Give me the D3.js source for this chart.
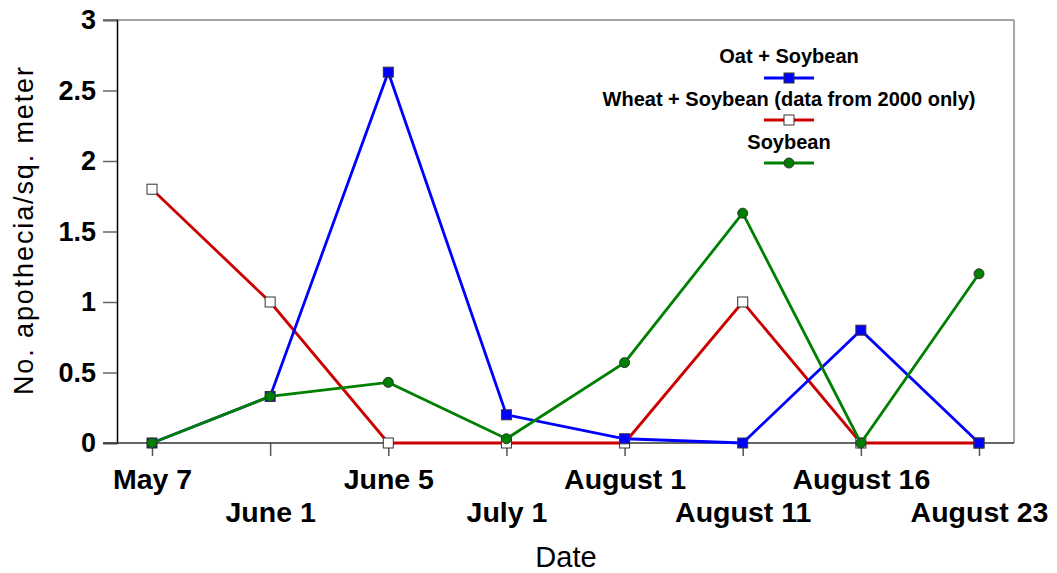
<!DOCTYPE html>
<html>
<head>
<meta charset="utf-8">
<script src="https://cdn.jsdelivr.net/npm/d3@7"></script>
<style>
  body { margin: 0; background: #fff; }
  svg { font-family: "Liberation Sans", Arial, sans-serif; }
</style>
</head>
<body>
<script>
const WIDTH = 1057;
const HEIGHT = 573;

// chart data
const dates = ["May 7", "June 1", "June 5", "July 1", "August 1", "August 11", "August 16", "August 23"];
const oatSoy = [0, 0.33, 2.63, 0.2, 0.03, 0, 0.8, 0];
const wheatSoy = [1.8, 1.0, 0, 0, 0, 1.0, 0, 0];
const soybean = [0, 0.33, 0.43, 0.03, 0.57, 1.63, 0, 1.2];
const yTicks = [0, 0.5, 1, 1.5, 2, 2.5, 3];

const series = [
  { name: "Oat + Soybean", values: oatSoy, color: "#0000ff", marker: "square", fill: "#0000ff" },
  { name: "Wheat + Soybean (data from 2000 only)", values: wheatSoy, color: "#cc0000", marker: "square", fill: "#ffffff" },
  { name: "Soybean", values: soybean, color: "#008000", marker: "circle", fill: "#008000" }
];
// wheat goes underneath, oat next, soybean on top
const drawOrder = [1, 0, 2];

const PLOT_LEFT = 117, PLOT_RIGHT = 1014, PLOT_TOP = 20, PLOT_BOTTOM = 443;

const svg = d3.select("body").append("svg")
  .attr("width", WIDTH)
  .attr("height", HEIGHT);

const x = d3.scalePoint().domain(dates).range([152, 979]);
const y = d3.scaleLinear().domain([0, 3]).range([PLOT_BOTTOM, PLOT_TOP]);

// frame: top and right in gray
svg.append("line").attr("x1", 103).attr("x2", PLOT_RIGHT).attr("y1", PLOT_TOP).attr("y2", PLOT_TOP)
  .attr("stroke", "#888").attr("stroke-width", 1.5);
svg.append("line").attr("x1", PLOT_RIGHT).attr("x2", PLOT_RIGHT).attr("y1", PLOT_TOP).attr("y2", PLOT_BOTTOM)
  .attr("stroke", "#888").attr("stroke-width", 1.5);

// y axis
const yAxis = d3.axisLeft(y).tickValues(yTicks).tickSize(14).tickPadding(7)
  .tickFormat(d => d3.format("")(d));
const gy = svg.append("g").attr("transform", `translate(${PLOT_LEFT},0)`).call(yAxis);
gy.select(".domain").attr("stroke", "#000").attr("stroke-width", 1.5);
gy.selectAll(".tick line").attr("stroke", "#666").attr("stroke-width", 1.5);
gy.selectAll(".tick text").attr("font-size", 27).attr("font-weight", "bold")
  .attr("fill", "#000").attr("font-family", "Liberation Sans, Arial, sans-serif");

// x axis
const xAxis = d3.axisBottom(x).tickSize(13).tickSizeOuter(0);
const gx = svg.append("g").attr("transform", `translate(0,${PLOT_BOTTOM})`).call(xAxis);
gx.select(".domain").remove();
svg.append("line").attr("x1", 103).attr("x2", PLOT_RIGHT).attr("y1", PLOT_BOTTOM).attr("y2", PLOT_BOTTOM)
  .attr("stroke", "#333").attr("stroke-width", 1.5);
gx.selectAll(".tick line").attr("stroke", "#555").attr("stroke-width", 1.5);
gx.selectAll(".tick text")
  .attr("font-size", 28.5).attr("font-weight", "bold").attr("fill", "#000")
  .attr("font-family", "Liberation Sans, Arial, sans-serif")
  .attr("y", (d, i) => i % 2 === 0 ? 46 : 79)
  .attr("dy", null);

// axis titles
svg.append("text")
  .attr("transform", "translate(33,231) rotate(-90)")
  .attr("text-anchor", "middle")
  .attr("font-size", 27)
  .attr("textLength", 328)
  .attr("lengthAdjust", "spacing")
  .text("No. apothecia/sq. meter");

svg.append("text")
  .attr("x", 566).attr("y", 567)
  .attr("text-anchor", "middle")
  .attr("font-size", 29)
  .text("Date");

// lines and markers
const line = d3.line().x((d, i) => x(dates[i])).y(d => y(d));

const drawMarker = (g, s, cx, cy) => {
  if (s.marker === "square") {
    g.append("rect")
      .attr("x", cx - 5).attr("y", cy - 5)
      .attr("width", 10).attr("height", 10)
      .attr("fill", s.fill).attr("stroke", "#333").attr("stroke-width", 1);
  } else {
    g.append("circle")
      .attr("cx", cx).attr("cy", cy).attr("r", 5)
      .attr("fill", s.fill).attr("stroke", "#333").attr("stroke-width", 1);
  }
};

drawOrder.forEach(k => {
  const s = series[k];
  const g = svg.append("g");
  g.append("path")
    .attr("d", line(s.values))
    .attr("fill", "none")
    .attr("stroke", s.color)
    .attr("stroke-width", 2.8);
  s.values.forEach((v, i) => drawMarker(g, s, x(dates[i]), y(v)));
});

// legend
const legendX = 789;
const legendBaselines = [63, 106, 149];
const legendLines = [78, 120, 163];
series.forEach((s, i) => {
  svg.append("text")
    .attr("x", legendX).attr("y", legendBaselines[i])
    .attr("text-anchor", "middle")
    .attr("font-size", 20).attr("font-weight", "bold")
    .text(s.name);
  const ly = legendLines[i];
  const g = svg.append("g");
  g.append("line")
    .attr("x1", legendX - 25).attr("x2", legendX + 25)
    .attr("y1", ly).attr("y2", ly)
    .attr("stroke", s.color).attr("stroke-width", 2.8);
  drawMarker(g, s, legendX, ly);
});
</script>
</body>
</html>
